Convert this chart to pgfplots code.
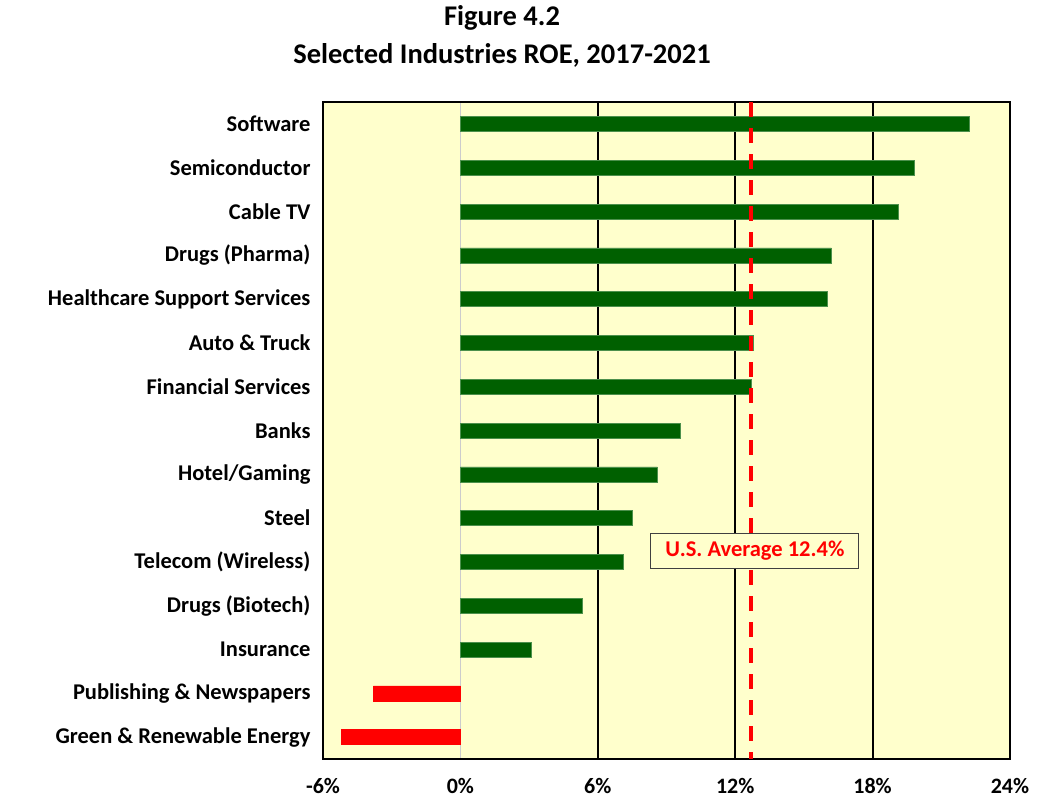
\documentclass[border=0pt]{standalone}
\usepackage{pgfplots}
\pgfplotsset{compat=1.18}
\usepackage{fontspec}
\setmainfont{Carlito}
\definecolor{bgyellow}{HTML}{FFFFCC}
\definecolor{bargreen}{HTML}{006000}
\definecolor{avgred}{HTML}{FF0000}

\begin{document}
\begin{tikzpicture}[font=\bfseries]
\begin{axis}[
  scale only axis, width=687pt, height=657pt,
  xmin=-6, xmax=24, ymin=-0.5, ymax=14.5, y dir=reverse,
  axis background/.style={fill=bgyellow},
  axis line style={line width=1.8pt, black},
  major tick length=0pt, minor tick length=0pt,
  xtick={-6,0,6,12,18,24},
  xticklabel={\pgfmathprintnumber{\tick}\%},
  /pgf/number format/assume math mode=true,
  xticklabel style={font=\fontsize{22}{26}\selectfont\bfseries, yshift=-16pt},
  extra x ticks={6,12,18}, extra x tick labels={},
  extra x tick style={grid=major, major grid style={black, line width=1.8pt}},
  minor xtick={0}, xminorgrids, minor grid style={black!20, line width=1.6pt},
  ytick={0,...,14},
  yticklabels={Software, Semiconductor, Cable TV, Drugs (Pharma),
    Healthcare Support Services, Auto \& Truck, Financial Services, Banks,
    Hotel/Gaming, Steel, Telecom (Wireless), Drugs (Biotech), Insurance,
    Publishing \& Newspapers, Green \& Renewable Energy},
  yticklabel style={font=\fontsize{22.5}{26}\selectfont\bfseries, xshift=-9pt},
]
\addplot [xbar, bar width=15pt, bar shift=0pt, fill=bargreen, draw=bargreen!70]
  coordinates {(22.2,0) (19.8,1) (19.1,2) (16.2,3) (16.0,4) (12.8,5) (12.7,6)
    (9.6,7) (8.6,8) (7.5,9) (7.1,10) (5.3,11) (3.1,12)};
\addplot [xbar, bar width=15pt, bar shift=0pt, fill=avgred, draw=avgred]
  coordinates {(-3.8,13) (-5.2,14)};
\addplot [avgred, line width=3.5pt, dash pattern=on 15pt off 11pt, no marks]
  coordinates {(12.7,-0.5) (12.7,14.5)};
\node [draw=black!75, line width=1.2pt, fill=bgyellow, text=avgred,
  font=\fontsize{22.5}{26}\selectfont\bfseries, minimum width=208pt, minimum height=35pt]
  at (axis cs:12.86,9.75) {U.S. Average 12.4\%};
\end{axis}
\node [font=\fontsize{28.5}{32}\selectfont\bfseries]
  at ([xshift=179pt, yshift=84pt]current axis.north west) {Figure 4.2};
\node [font=\fontsize{28.5}{32}\selectfont\bfseries]
  at ([xshift=179pt, yshift=47pt]current axis.north west) {Selected Industries ROE, 2017-2021};
% page frame with the reference's margins
\path ([xshift=-323pt, yshift=102pt]current axis.north west) rectangle ++(1038pt,-804pt);
\end{tikzpicture}
\end{document}
